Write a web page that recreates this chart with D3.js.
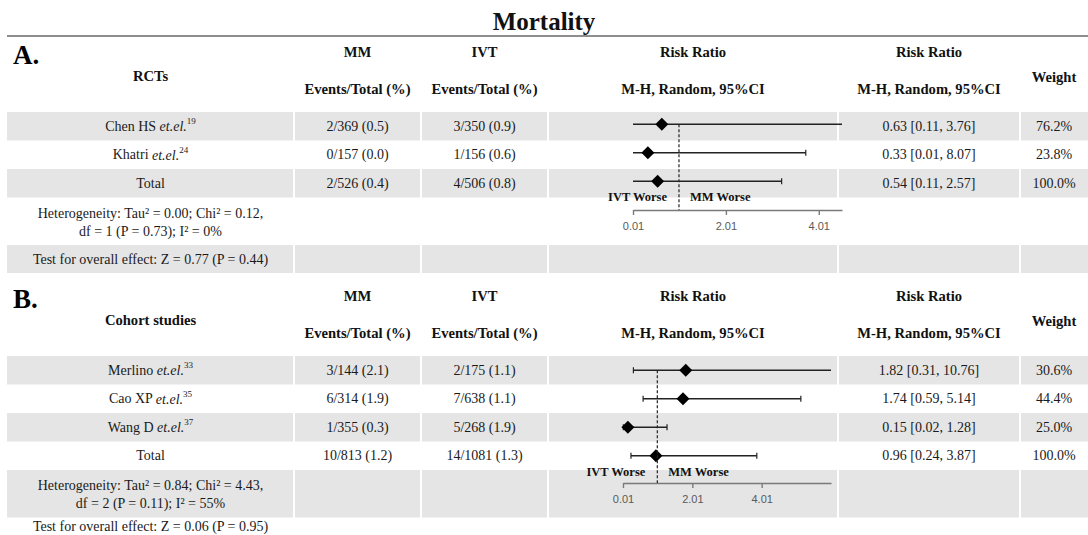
<!DOCTYPE html>
<html><head><meta charset="utf-8">
<script src="https://cdn.jsdelivr.net/npm/d3@7"></script>
<style>body{margin:0;background:#fff}</style>
</head><body><svg id="c" width="1088" height="535"></svg>
<script>
// ---------- DATA ----------
const chartTitle = "Mortality";
const headTop = ["MM", "IVT", "Risk Ratio", "Risk Ratio"];
const headBottom = ["Events/Total (%)", "Events/Total (%)", "M-H, Random, 95%CI", "M-H, Random, 95%CI"];
const weightHead = "Weight";
const worseLabels = ["IVT Worse", "MM Worse"];

// Panel A: RCTs
const panelLabelA = "A.";
const groupA = "RCTs";
const studiesA = ["Chen HS", "Khatri", "Total"];
const refsA = ["19", "24", ""];
const mmEventsA = [2, 0, 2];
const mmTotalA = [369, 157, 526];
const mmPctA = [0.5, 0.0, 0.4];
const ivtEventsA = [3, 1, 4];
const ivtTotalA = [350, 156, 506];
const ivtPctA = [0.9, 0.6, 0.8];
const rrA = [0.63, 0.33, 0.54];
const rrLoA = [0.11, 0.01, 0.11];
const rrHiA = [3.76, 8.07, 2.57];
const weightA = [76.2, 23.8, 100.0];
// whisker ends as drawn in the picture
const whiskerLoA = [0.01, 0.01, 0.01];
const whiskerHiA = [4.8, 3.73, 3.21];
const hetA = ["Heterogeneity: Tau\u00B2 = 0.00; Chi\u00B2 = 0.12,", "df = 1 (P = 0.73); I\u00B2 = 0%"];
const testA = "Test for overall effect: Z = 0.77 (P = 0.44)";
const ticksA = [0.01, 2.01, 4.01];
const domainA = [0.01, 4.51];

// Panel B: Cohort studies
const panelLabelB = "B.";
const groupB = "Cohort studies";
const studiesB = ["Merlino", "Cao XP", "Wang D", "Total"];
const refsB = ["33", "35", "37", ""];
const mmEventsB = [3, 6, 1, 10];
const mmTotalB = [144, 314, 355, 813];
const mmPctB = [2.1, 1.9, 0.3, 1.2];
const ivtEventsB = [2, 7, 5, 14];
const ivtTotalB = [175, 638, 268, 1081];
const ivtPctB = [1.1, 1.1, 1.9, 1.3];
const rrB = [1.82, 1.74, 0.15, 0.96];
const rrLoB = [0.31, 0.59, 0.02, 0.24];
const rrHiB = [10.76, 5.14, 1.28, 3.87];
const weightB = [30.6, 44.4, 25.0, 100.0];
const hetB = ["Heterogeneity: Tau\u00B2 = 0.84; Chi\u00B2 = 4.43,", "df = 2 (P = 0.11); I\u00B2 = 55%"];
const testB = "Test for overall effect: Z = 0.06 (P = 0.95)";
const ticksB = [0.01, 2.01, 4.01];
const domainB = [0.01, 6.01];

// ---------- LAYOUT ----------
const svg = d3.select("#c");
const SERIF = "'Liberation Serif','Times New Roman',serif";
const SANS = "'Liberation Sans',Arial,sans-serif";
const GRAY = "#e5e5e5";
const edges = [7, 294, 421, 548, 838, 1020, 1088];
const colC = d3.range(6).map(i => (edges[i] + edges[i + 1]) / 2);
const HEAD = 14.6;

svg.append("text").attr("x", 544).attr("y", 21).attr("text-anchor", "middle")
  .attr("dominant-baseline", "central").attr("font-family", SERIF).attr("font-weight", "bold")
  .attr("font-size", 25).attr("fill", "#111").text(chartTitle);
svg.append("line").attr("x1", 7).attr("x2", 1088).attr("y1", 36).attr("y2", 36)
  .attr("stroke", "#8e8e8e").attr("stroke-width", 2);

function bandRow(y, h) {
  const g = svg.append("g");
  for (let i = 0; i < 6; i++) {
    const x0 = edges[i] + (i > 0 ? 1 : 0);
    const x1 = edges[i + 1] - (i < 5 ? 1 : 0);
    g.append("rect").attr("x", x0).attr("y", y).attr("width", x1 - x0).attr("height", h).attr("fill", GRAY);
  }
}
function txt(x, y, s, opt = {}) {
  return svg.append("text").attr("x", x).attr("y", y).attr("text-anchor", opt.anchor || "middle")
    .attr("dominant-baseline", "central").attr("font-family", opt.family || SERIF)
    .attr("font-weight", opt.bold ? "bold" : "normal").attr("font-size", opt.size || 14)
    .attr("fill", opt.fill || "#1a1a1a").text(s);
}

function panel(cfg) {
  const y0 = cfg.y0;
  txt(13, y0 + 55, cfg.label, {anchor: "start", bold: true, size: 27, fill: "#000"});
  txt(colC[0], y0 + 76, cfg.group, {bold: true, size: HEAD, fill: "#111"});
  headTop.forEach((h, i) => txt(colC[i + 1], y0 + 52, h, {bold: true, size: HEAD, fill: "#111"}));
  headBottom.forEach((h, i) => txt(colC[i + 1], y0 + 89, h, {bold: true, size: HEAD, fill: "#111"}));
  txt(colC[5], y0 + 77, weightHead, {bold: true, size: HEAD, fill: "#111"});

  const rowH = 28.5, hetH = 47.5;
  const firstTop = y0 + 112;
  const n = cfg.studies.length;
  const rowTop = d3.range(n).map(i => firstTop + i * rowH);
  const hetTop = firstTop + n * rowH;
  const testTop = hetTop + hetH;
  const bands = [];
  for (let i = 0; i < n; i++) bands.push([rowTop[i], rowH]);
  bands.push([hetTop, hetH]);
  bands.push([testTop, 28]);
  bands.forEach((b, i) => { if (i % 2 === 0 && !(cfg.noTestBand && i === bands.length - 1)) bandRow(b[0], b[1]); });

  const x = d3.scaleLinear().domain(cfg.domain).range(cfg.range);
  const gPlot = svg.append("g");

  cfg.studies.forEach((s, i) => {
    const cy = rowTop[i] + rowH / 2;
    const t = txt(colC[0], cy, s + " ");
    if (cfg.refs[i]) {
      t.append("tspan").attr("font-style", "italic").text("et.el.");
      t.append("tspan").attr("font-size", 9).attr("dy", -5).text(cfg.refs[i]);
    }
    txt(colC[1], cy, `${cfg.mmE[i]}/${cfg.mmT[i]} (${cfg.mmP[i].toFixed(1)})`);
    txt(colC[2], cy, `${cfg.ivtE[i]}/${cfg.ivtT[i]} (${cfg.ivtP[i].toFixed(1)})`);
    txt(colC[4], cy, `${cfg.rr[i].toFixed(2)} [${cfg.lo[i].toFixed(2)}, ${cfg.hi[i].toFixed(2)}]`);
    txt(colC[5], cy, `${cfg.w[i].toFixed(1)}%`);

    const py = cy + cfg.plotDy;
    const [d0, d1] = cfg.domain;
    const lo = cfg.wLo[i], hi = cfg.wHi[i];
    const xl = x(Math.max(lo, d0)), xh = x(Math.min(hi, d1));
    gPlot.append("line").attr("x1", xl).attr("x2", xh).attr("y1", py).attr("y2", py)
      .attr("stroke", "#222").attr("stroke-width", 1.3);
    if (lo > d0 && lo < d1) gPlot.append("line").attr("x1", xl).attr("x2", xl).attr("y1", py - 3).attr("y2", py + 3).attr("stroke", "#222").attr("stroke-width", 1.2);
    if (hi > d0 && hi < d1) gPlot.append("line").attr("x1", xh).attr("x2", xh).attr("y1", py - 3).attr("y2", py + 3).attr("stroke", "#222").attr("stroke-width", 1.2);
    const px = x(cfg.rr[i]);
    gPlot.append("path").attr("d", `M${px},${py - 6.5}L${px + 6.5},${py}L${px},${py + 6.5}L${px - 6.5},${py}Z`).attr("fill", "#000");
  });

  const hc = hetTop + hetH / 2 + 1;
  txt(colC[0], hc - 9, cfg.het[0], {size: 14});
  txt(colC[0], hc + 9, cfg.het[1], {size: 14});
  txt(colC[0], cfg.testY, cfg.test, {size: 14});

  const axisY = cfg.axisY;
  const ax = svg.append("g").attr("transform", `translate(0,${axisY})`)
    .call(d3.axisBottom(x).tickValues(cfg.ticks).tickFormat(d3.format(".2f")).tickSize(5).tickSizeOuter(0).tickPadding(7));
  ax.select(".domain").attr("stroke", "#7a7a7a").attr("stroke-width", 1.6);
  ax.selectAll(".tick line").attr("stroke", "#7a7a7a").attr("stroke-width", 1.4);
  ax.selectAll(".tick text").attr("font-family", SANS).attr("font-size", 11).attr("fill", "#5a5a5a");

  const firstPy = rowTop[0] + rowH / 2 + cfg.plotDy;
  gPlot.append("line").attr("x1", x(1)).attr("x2", x(1)).attr("y1", firstPy).attr("y2", axisY)
    .attr("stroke", "#222").attr("stroke-width", 1.2).attr("stroke-dasharray", "3,2");
  gPlot.raise();
  txt(x(1) - 12, cfg.worseY, worseLabels[0], {anchor: "end", bold: true, size: 12.5, fill: "#111"});
  txt(x(1) + 11, cfg.worseY, worseLabels[1], {anchor: "start", bold: true, size: 12.5, fill: "#111"});
}

panel({y0: 0, label: panelLabelA, group: groupA, studies: studiesA, refs: refsA,
  mmE: mmEventsA, mmT: mmTotalA, mmP: mmPctA, ivtE: ivtEventsA, ivtT: ivtTotalA, ivtP: ivtPctA,
  rr: rrA, lo: rrLoA, hi: rrHiA, w: weightA, wLo: whiskerLoA, wHi: whiskerHiA,
  het: hetA, test: testA, ticks: ticksA, domain: domainA, range: [633, 842],
  plotDy: -2, axisY: 210, worseY: 197, testY: 259});

panel({y0: 244, label: panelLabelB, group: groupB, studies: studiesB, refs: refsB,
  mmE: mmEventsB, mmT: mmTotalB, mmP: mmPctB, ivtE: ivtEventsB, ivtT: ivtTotalB, ivtP: ivtPctB,
  rr: rrB, lo: rrLoB, hi: rrHiB, w: weightB, wLo: rrLoB, wHi: rrHiB,
  het: hetB, test: testB, ticks: ticksB, domain: domainB, range: [623, 831],
  plotDy: 0, axisY: 483, worseY: 472, testY: 526, noTestBand: true});
</script></body></html>
